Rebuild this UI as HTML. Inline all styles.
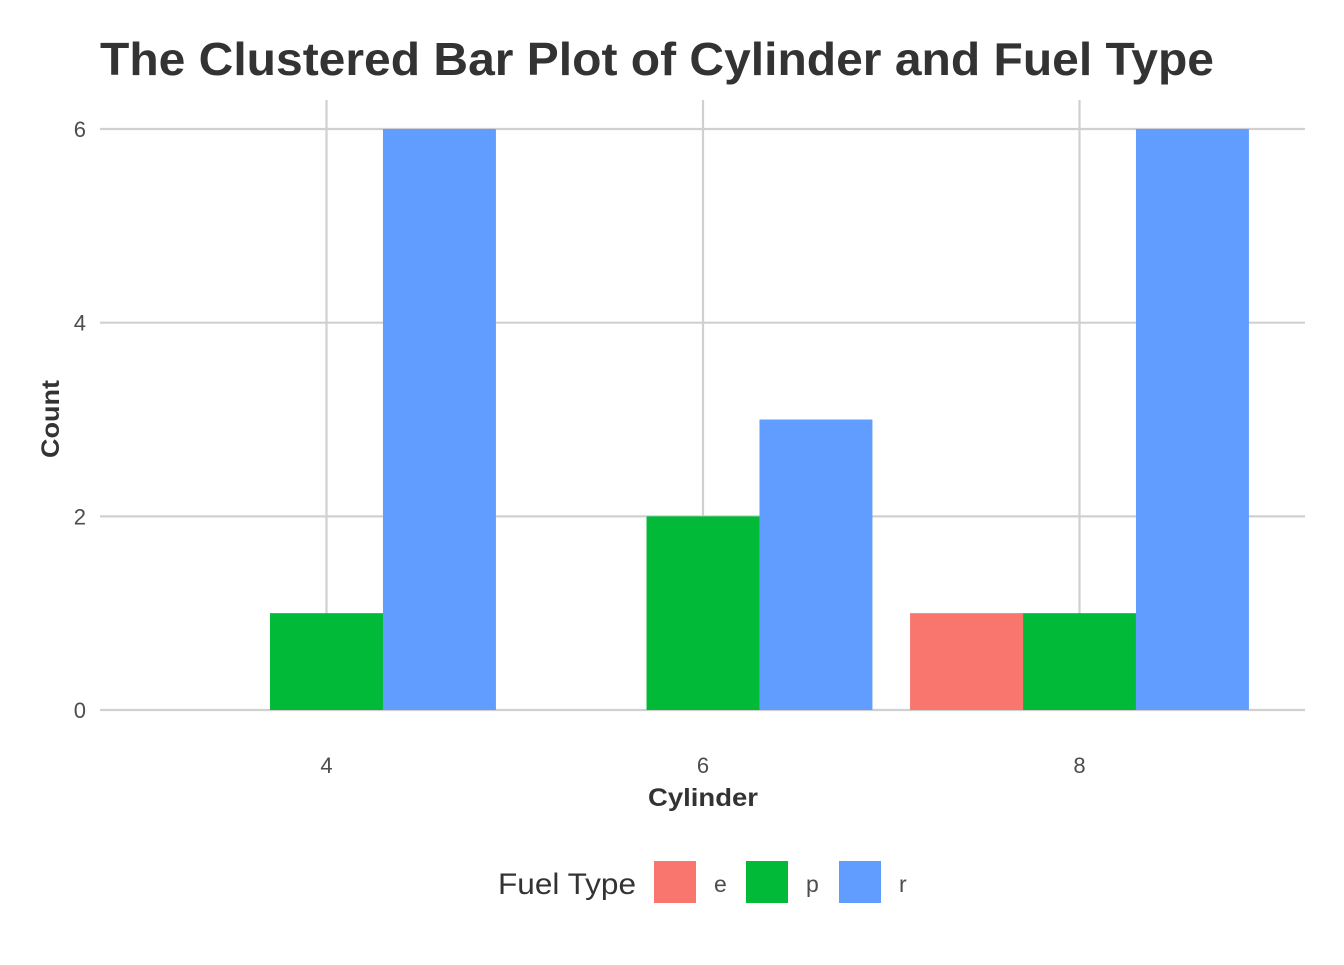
<!DOCTYPE html>
<html><head><meta charset="utf-8"><style>
body{margin:0;background:#fff;}
svg text{font-family:"Liberation Sans",Arial,sans-serif;}
</style></head><body>
<svg id="chart" width="1344" height="960" xmlns="http://www.w3.org/2000/svg">
<rect width="1344" height="960" fill="#fff"/>
<text x="100" y="75" font-size="46" font-weight="bold" fill="#333" textLength="1114" lengthAdjust="spacingAndGlyphs">The Clustered Bar Plot of Cylinder and Fuel Type</text>
<g id="grid"></g>
<g id="bars"></g>
<g id="ticks"></g>
<text x="648" y="806" font-size="25" font-weight="bold" fill="#333" textLength="110" lengthAdjust="spacingAndGlyphs">Cylinder</text>
<text transform="translate(59,458) rotate(-90)" font-size="25" font-weight="bold" fill="#333" textLength="78" lengthAdjust="spacingAndGlyphs">Count</text>
<g>
<text x="498" y="894" font-size="30" fill="#333" textLength="138" lengthAdjust="spacingAndGlyphs">Fuel Type</text>
<rect x="654" y="861" width="42" height="42" fill="#F8766D"/>
<text x="714" y="892" font-size="23" fill="#4d4d4d">e</text>
<rect x="746" y="861" width="42" height="42" fill="#00BA38"/>
<text x="806" y="892" font-size="23" fill="#4d4d4d">p</text>
<rect x="839" y="861" width="42" height="42" fill="#619CFF"/>
<text x="899" y="892" font-size="23" fill="#4d4d4d">r</text>
</g>
</svg>
<script>
const categories = ["4","6","8"];
const fuelTypes = ["e","p","r"];
const countsE = [0,0,1];
const countsP = [1,2,1];
const countsR = [6,3,6];
const yTicks = [0,2,4,6];

const NS="http://www.w3.org/2000/svg";
const colors={e:"#F8766D",p:"#00BA38",r:"#619CFF"};
const offsets={e:-0.3,p:0,r:0.3};
const series={e:countsE,p:countsP,r:countsR};
function xs(i){return 326.5+i*376.5;}
function ys(v){return 710-v*96.83;}
function mk(tag,attrs,parent){const e=document.createElementNS(NS,tag);for(const k in attrs)e.setAttribute(k,attrs[k]);parent.appendChild(e);return e;}
const grid=document.getElementById('grid'),bars=document.getElementById('bars'),ticks=document.getElementById('ticks');
yTicks.forEach(v=>{
  const l=mk('line',{x1:100,x2:1305,y1:ys(v),y2:ys(v),stroke:'#d0d0d0','stroke-width':2.2},grid);
  
  
  const t=mk('text',{x:86,y:ys(v)+8,'font-size':22,fill:'#4d4d4d','text-anchor':'end'},ticks);
  t.textContent=v;
  
  
});
categories.forEach((c,i)=>{
  const l=mk('line',{x1:xs(i),x2:xs(i),y1:100,y2:710,stroke:'#d0d0d0','stroke-width':2.2},grid);
  
  
  const t=mk('text',{x:xs(i),y:773,'font-size':22,fill:'#4d4d4d','text-anchor':'middle'},ticks);
  t.textContent=c;
  
  
});
const bw=0.3*376.5;
fuelTypes.forEach(f=>{
  series[f].forEach((v,i)=>{
    if(!v)return;
    const cx=xs(i)+offsets[f]*376.5;
    const r=mk('rect',{x:cx-bw/2,y:ys(v),width:bw,height:ys(0)-ys(v),fill:colors[f]},bars);
    
    
  });
});
</script>
</body></html>
